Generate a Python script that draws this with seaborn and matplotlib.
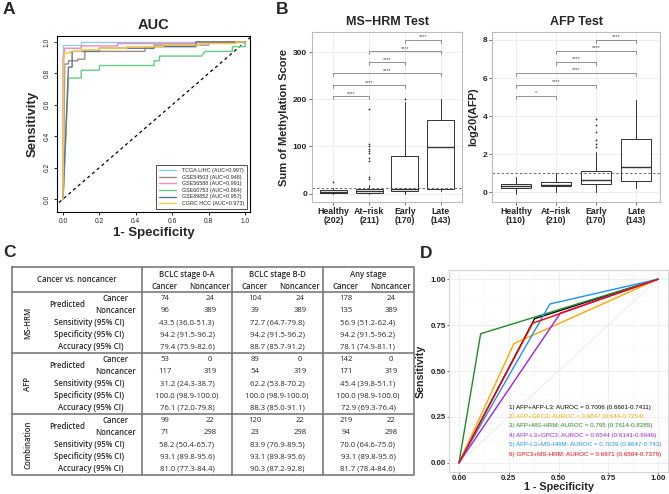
import matplotlib
matplotlib.use("Agg")
import matplotlib.pyplot as plt
import seaborn as sns
import pandas as pd

sns.set_style("white")
plt.rcParams["font.family"] = ["Liberation Sans", "DejaVu Sans"]

W, H = 669, 494

# ---- A: ROC curves of public data sets (staircase points)
a_labels = ["TCGA LIHC (AUC=0.997)", "GSE54503 (AUC=0.948)", "GSE56588 (AUC=0.991)",
            "GSE60753 (AUC=0.864)", "GSE89852 (AUC=0.957)", "CGRC HCC (AUC=0.973)"]
a_colors = ["#8DCDF0", "#A08C80", "#F08CB4", "#66CC88", "#5E7592", "#F5C940"]
tcga_fpr = [0, 0, 0.1, 0.1, 1]
tcga_tpr = [0, 0.98, 0.98, 1.0, 1.0]
gse54503_fpr = [0, 0.01, 0.03, 0.03, 0.08, 0.08, 0.12, 0.12, 0.45, 0.45, 0.5, 0.5, 0.8, 0.8, 1]
gse54503_tpr = [0, 0.86, 0.86, 0.88, 0.88, 0.89, 0.89, 0.94, 0.94, 0.96, 0.96, 0.98, 0.98, 1.0, 1.0]
gse56588_fpr = [0, 0, 0.01, 0.1, 0.1, 0.3, 0.3, 0.73, 0.73, 1]
gse56588_tpr = [0, 0.89, 0.96, 0.96, 0.975, 0.975, 0.99, 0.99, 1.0, 1.0]
gse60753_fpr = [0, 0.03, 0.1, 0.1, 0.2, 0.2, 0.5, 0.5, 0.53, 0.53, 0.76, 0.78, 0.93, 0.93, 1.0, 1.0]
gse60753_tpr = [0, 0.77, 0.77, 0.82, 0.82, 0.85, 0.85, 0.88, 0.88, 0.91, 0.91, 0.94, 0.94, 0.97, 0.97, 1.0]
gse89852_fpr = [0, 0.03, 0.05, 0.05, 0.2, 0.2, 0.5, 0.5, 0.73, 0.73, 1]
gse89852_tpr = [0, 0.84, 0.84, 0.94, 0.94, 0.96, 0.96, 0.97, 0.97, 1.0, 1.0]
cgrc_fpr = [0, 0.005, 0.01, 0.04, 0.04, 0.1, 0.1, 0.2, 0.2, 0.35, 0.35, 0.55, 0.55, 0.75, 0.75, 0.95, 0.95, 1]
cgrc_tpr = [0, 0.89, 0.93, 0.93, 0.94, 0.94, 0.95, 0.95, 0.96, 0.96, 0.97, 0.97, 0.98, 0.98, 0.99, 0.99, 1.0, 1.0]
a_fpr = [tcga_fpr, gse54503_fpr, gse56588_fpr, gse60753_fpr, gse89852_fpr, cgrc_fpr]
a_tpr = [tcga_tpr, gse54503_tpr, gse56588_tpr, gse60753_tpr, gse89852_tpr, cgrc_tpr]

# ---- B: box plot summaries
groups = ["Healthy", "At\u2212risk", "Early", "Late"]
ms_n = [202, 211, 170, 143]
afp_n = [110, 210, 170, 143]
ms_low = [0, 0, 0, 5]
ms_q1 = [2, 2, 6, 10]
ms_med = [4, 5, 10, 98]
ms_q3 = [7, 9, 80, 157]
ms_high = [12, 18, 195, 200]
ms_fliers = [[25], [30, 35, 70, 75, 85, 90, 95, 100, 105, 180], [200], []]
ms_cut = 12
afp_low = [-0.1, 0.0, 0.0, 0.2]
afp_q1 = [0.2, 0.3, 0.45, 0.6]
afp_med = [0.33, 0.4, 0.65, 1.3]
afp_q3 = [0.45, 0.55, 1.1, 2.78]
afp_high = [0.8, 1.0, 2.1, 4.85]
afp_fliers = [[], [], [2.37, 2.51, 2.75, 3.16, 3.51, 3.86], []]
afp_cut = 1.0
pairs = [(0, 1), (0, 2), (0, 3), (1, 2), (1, 3), (2, 3)]
ms_sig_y = [207, 230, 255, 279, 302, 326]
afp_sig_y = [5.05, 5.65, 6.26, 6.84, 7.42, 8.02]
ms_sig = ["****"] * 6
afp_sig = ["*", "****", "****", "****", "****", "****"]

# ---- C: performance table
stages = ["BCLC stage 0-A", "BCLC stage B-D", "Any stage"]
tests = ["MS-HRM", "AFP", "Combination"]
pred_cancer = [[(74, 24), (104, 24), (178, 24)],
               [(53, 0), (89, 0), (142, 0)],
               [(99, 22), (120, 22), (219, 22)]]
pred_noncancer = [[(96, 389), (39, 389), (135, 389)],
                  [(117, 319), (54, 319), (171, 319)],
                  [(71, 298), (23, 298), (94, 298)]]
sens = [["43.5 (36.0-51.3)", "72.7 (64.7-79.8)", "56.9 (51.2-62.4)"],
        ["31.2 (24.3-38.7)", "62.2 (53.8-70.2)", "45.4 (39.8-51.1)"],
        ["58.2 (50.4-65.7)", "83.9 (76.9-89.5)", "70.0 (64.6-75.0)"]]
spec = [["94.2 (91.5-96.2)", "94.2 (91.5-96.2)", "94.2 (91.5-96.2)"],
        ["100.0 (98.9-100.0)", "100.0 (98.9-100.0)", "100.0 (98.9-100.0)"],
        ["93.1 (89.8-95.6)", "93.1 (89.8-95.6)", "93.1 (89.8-95.6)"]]
acc = [["79.4 (75.9-82.6)", "88.7 (85.7-91.2)", "78.1 (74.9-81.1)"],
       ["76.1 (72.0-79.8)", "88.3 (85.0-91.1)", "72.9 (69.3-76.4)"],
       ["81.0 (77.3-84.4)", "90.3 (87.2-92.8)", "81.7 (78.4-84.6)"]]

# ---- D: combined marker ROC (single cut-off points)
d_labels = ["1) AFP+AFP-L3: AUROC = 0.7006 (0.6601-0.7411)",
            "2) AFP+GPC3: AUROC = 0.6847 (0.644-0.7254)",
            "3) AFP+MS-HRM: AUROC = 0.795 (0.7614-0.8285)",
            "4) AFP-L3+GPC3: AUROC = 0.6544 (0.6141-0.6946)",
            "5) AFP-L3+MS-HRM: AUROC = 0.7039 (0.6647-0.743)",
            "6) GPC3+MS-HRM: AUROC = 0.6971 (0.6564-0.7379)"]
d_colors = ["black", "#FFA500", "#228B22", "#A020F0", "#1E90FF", "#FF0000"]
d_fpr = [0.38, 0.276, 0.109, 0.51, 0.457, 0.37]
d_tpr = [0.785, 0.649, 0.703, 0.816, 0.865, 0.76]


fig = plt.figure(figsize=(W / 100, H / 100), dpi=100)


def box(l, t, r, b):
    return fig.add_axes([l / W, 1 - b / H, (r - l) / W, (b - t) / H])


# overlay for panel letters and the table
ov = fig.add_axes([0, 0, 1, 1])
ov.set_xlim(0, W)
ov.set_ylim(H, 0)
ov.axis("off")
for letter, x, y in [("A", 3, 10), ("B", 276, 10), ("C", 3, 252), ("D", 420, 253)]:
    ov.text(x, y, letter, fontsize=12.5, fontweight="bold", va="center", ha="left")

# ---------------- A
ax = box(57, 36, 250, 212)
ax.plot([-0.1, 1.1], [-0.1, 1.1], color="black", lw=0.9, ls=(0, (2.5, 2.5)))
for fpr, tpr, lab, col in zip(a_fpr, a_tpr, a_labels, a_colors):
    df = pd.DataFrame({"fpr": fpr, "tpr": tpr})
    sns.lineplot(data=df, x="fpr", y="tpr", sort=False, estimator=None, color=col,
                 lw=1.0, label=lab, ax=ax)
ax.set_xlim(-0.033, 1.027)
ax.set_ylim(-0.083, 1.038)
ticks = [0, 0.2, 0.4, 0.6, 0.8, 1.0]
ax.set_xticks(ticks)
ax.set_yticks(ticks)
ax.set_xticklabels(["0.0", "0.2", "0.4", "0.6", "0.8", "1.0"], fontsize=4.8)
ax.set_yticklabels(["0.0", "0.2", "0.4", "0.6", "0.8", "1.0"], fontsize=4.8, rotation=90, va="center")
ax.tick_params(length=2.5, width=0.6, pad=2, color="black", direction="out", bottom=True, left=True)
for s in ax.spines.values():
    s.set_color("black")
    s.set_linewidth(0.8)
ax.set_xlabel("1- Specificity", fontsize=9.5, fontweight="bold", labelpad=1)
ax.set_ylabel("Sensitivity", fontsize=9.5, fontweight="bold", labelpad=4)
ax.set_title("AUC", fontsize=10.5, fontweight="bold", pad=5)
leg = ax.legend(loc="lower right", fontsize=3.9, frameon=True, fancybox=False, handlelength=3.2,
                borderpad=0.5, labelspacing=0.3, handletextpad=1.0, borderaxespad=0.6)
leg.get_frame().set_edgecolor("black")
leg.get_frame().set_linewidth(0.6)


# ---------------- B
def draw_box(ax, low, q1, med, q3, high, fliers, n, cut, sig_y, sig, tip, off, ylim, yticks, title, ylabel):
    stats = []
    for i in range(len(groups)):
        stats.append({"whislo": low[i], "q1": q1[i], "med": med[i], "q3": q3[i],
                      "whishi": high[i], "fliers": fliers[i]})
    ax.bxp(stats, positions=range(4), widths=0.75, showcaps=False, patch_artist=True,
           boxprops=dict(facecolor="white", edgecolor="#333333", lw=0.7),
           medianprops=dict(color="#333333", lw=1.0),
           whiskerprops=dict(color="#333333", lw=0.7),
           flierprops=dict(marker="o", markersize=1.3, markerfacecolor="#333333",
                           markeredgecolor="none"))
    ax.axhline(cut, color="#555555", lw=0.6, ls=(0, (3, 2.5)))
    for (i, j), y, s in zip(pairs, sig_y, sig):
        ax.plot([i, i, j, j], [y - tip, y, y, y - tip], color="#666666", lw=0.5)
        ax.text((i + j) / 2, y + off, s, ha="center", va="bottom", fontsize=4, color="#444444")
    ax.set_xlim(-0.6, 3.6)
    ax.set_ylim(*ylim)
    ax.set_xticks(range(4))
    ax.set_xticklabels([f"{g}\n({k})" for g, k in zip(groups, n)], fontsize=6.3,
                       fontweight="bold", linespacing=1.0)
    ax.set_yticks(yticks)
    ax.set_yticklabels([str(t) for t in yticks], fontsize=6, fontweight="bold")
    ax.tick_params(length=2, width=0.5, pad=1.5, color="#333333", bottom=True, left=True)
    ax.grid(True, color="#EBEBEB", lw=0.6)
    ax.set_axisbelow(True)
    for s in ax.spines.values():
        s.set_color("#BBBBBB")
        s.set_linewidth(0.8)
    ax.set_title(title, fontsize=9, fontweight="bold", pad=5)
    ax.set_ylabel(ylabel, fontsize=8, fontweight="bold", labelpad=3)


axb1 = box(312, 32, 462, 202)
draw_box(axb1, ms_low, ms_q1, ms_med, ms_q3, ms_high, ms_fliers, ms_n, ms_cut, ms_sig_y,
         ms_sig, 6, 1, (-18, 343), [0, 100, 200, 300], "MS\u2212HRM Test", "Sum of Methylation Score")
axb2 = box(492, 32, 660, 202)
draw_box(axb2, afp_low, afp_q1, afp_med, afp_q3, afp_high, afp_fliers, afp_n, afp_cut, afp_sig_y,
         afp_sig, 0.16, 0.03, (-0.52, 8.42), [0, 2, 4, 6, 8], "AFP Test", "log20(AFP)")

# ---------------- C (table)
tfont = ["Open Sans", "Noto Sans", "DejaVu Sans"]
tfs = 5.6
tc = "#2A2A2A"
lc = "#707070"
x0, x1 = 12, 414
top, head, bot = 267, 292, 475
col_l = [142, 232, 323]
blk_h = 61
row_h = 12.2
ov.plot([x0, x1, x1, x0, x0], [top, top, bot, bot, top], color=lc, lw=1.1)
for cx in col_l:
    ov.plot([cx, cx], [top, bot], color=lc, lw=1.1)
for k in range(3):
    yy = head + k * blk_h
    ov.plot([x0, x1], [yy, yy], color=lc, lw=1.1)


def cell(x, y, s, bold=False, ha="center", rot=0):
    ov.text(x, y, s, ha=ha, va="center", fontsize=tfs, color=tc, family=tfont,
            fontweight="semibold" if bold else "normal", rotation=rot)


cell(77, (top + head) / 2, "Cancer vs. noncancer", bold=True)
for cx, st in zip(col_l, stages):
    cell(cx + 45, 274, st, bold=True)
    cell(cx + 23, 286, "Cancer", bold=True)
    cell(cx + 68, 286, "Noncancer", bold=True)
for k, test in enumerate(tests):
    by = head + k * blk_h
    ry = [by + row_h * (r + 0.5) for r in range(5)]
    cell(28, by + blk_h / 2, test, bold=True, rot=90)
    cell(67, (ry[0] + ry[1]) / 2, "Predicted", bold=True)
    cell(116, ry[0], "Cancer", bold=True)
    cell(116, ry[1], "Noncancer", bold=True)
    for r, lab in zip(ry[2:], ["Sensitivity (95% CI)", "Specificity (95% CI)", "Accuracy (95% CI)"]):
        cell(124, r, lab, bold=True, ha="right")
    for c, cx in enumerate(col_l):
        for r, pair in zip(ry[:2], [pred_cancer[k][c], pred_noncancer[k][c]]):
            cell(cx + 23, r, str(pair[0]))
            cell(cx + 68, r, str(pair[1]))
        for r, val in zip(ry[2:], [sens[k][c], spec[k][c], acc[k][c]]):
            cell(cx + 45, r, val)

# ---------------- D
axd = box(449, 270, 668, 472)
axd.plot([0, 1], [0, 1], color="#E3E3E3", lw=0.5)
for fx, ty, col, lab in zip(d_fpr, d_tpr, d_colors, d_labels):
    df = pd.DataFrame({"fpr": [0, fx, 1], "tpr": [0, ty, 1]})
    sns.lineplot(data=df, x="fpr", y="tpr", sort=False, estimator=None, color=col, lw=1.0, ax=axd)
for i, (lab, col) in enumerate(zip(d_labels, d_colors)):
    axd.text(0.252, 0.303 - i * 0.051, lab, color=col, fontsize=4.5, ha="left", va="center")
axd.set_xlim(-0.05, 1.05)
axd.set_ylim(-0.05, 1.05)
dt = [0, 0.25, 0.5, 0.75, 1.0]
axd.set_xticks(dt)
axd.set_yticks(dt)
axd.set_xticks([0.125, 0.375, 0.625, 0.875], minor=True)
axd.set_yticks([0.125, 0.375, 0.625, 0.875], minor=True)
axd.set_xticklabels(["0.00", "0.25", "0.50", "0.75", "1.00"], fontsize=5.7, fontweight="bold")
axd.set_yticklabels(["0.00", "0.25", "0.50", "0.75", "1.00"], fontsize=5.7, fontweight="bold")
axd.tick_params(which="major", length=1.5, width=0.5, pad=1, color="#333333", bottom=True, left=True)
axd.tick_params(which="minor", length=0)
axd.grid(True, which="major", color="#EDEDED", lw=0.6)
axd.grid(True, which="minor", color="#F6F6F6", lw=0.4)
axd.set_axisbelow(True)
for s in axd.spines.values():
    s.set_color("#D5D5D5")
    s.set_linewidth(0.8)
axd.set_xlabel("1 - Specificity", fontsize=7.8, fontweight="bold", labelpad=0)
axd.set_ylabel("Sensitivity", fontsize=7.7, fontweight="bold", labelpad=3)

fig.savefig("out.png", dpi=100)
